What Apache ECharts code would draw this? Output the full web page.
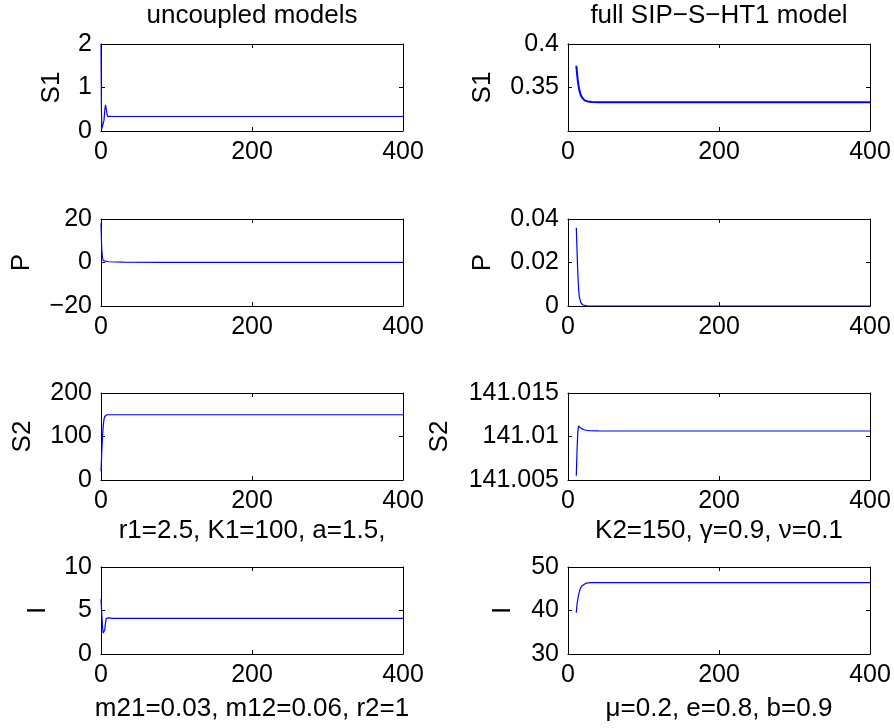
<!DOCTYPE html>
<html>
<head>
<meta charset="utf-8">
<script src="https://cdn.jsdelivr.net/npm/echarts@6/dist/echarts.min.js"></script>
<style>html,body{margin:0;padding:0;background:#fff}#c{width:894px;height:728px}</style>
</head>
<body>
<div id="c"></div>
<script>
// ---- data: [t, value] pairs ----
const s1Uncoupled = [[0,2],[0.5,0.6],[1,0.05],[2,0.02],[3,0.08],[4,0.25],[5,0.48],[6,0.6],[7,0.5],[8,0.38],[9,0.33],[10,0.32],[12,0.335],[15,0.333],[100,0.333],[200,0.333],[400,0.333]];
const pUncoupled  = [[0,18],[0.5,11],[1,6],[2,2],[3,0.9],[5,0.5],[10,0.35],[30,0.2],[80,0.08],[200,0.03],[400,0.02]];
const s2Uncoupled = [[0,20],[0.5,40],[1,65],[2,100],[3,125],[4,140],[5,146],[6,149],[8,150],[100,150],[400,150]];
const iUncoupled  = [[0,6.3],[1,4.6],[2,3.1],[3,2.4],[4,2.3],[5,2.8],[6,3.6],[7,4.1],[8,4.25],[10,4.15],[15,4.1],[400,4.1]];

const s1Full = [[11,0.375],[12,0.366],[13,0.358],[14,0.352],[15,0.347],[17,0.341],[19,0.338],[22,0.3352],[26,0.334],[32,0.3334],[40,0.333],[400,0.333]];
const pFull  = [[11,0.036],[12,0.025],[13,0.015],[14,0.008],[15,0.0042],[17,0.0015],[20,0.0004],[25,0.0001],[60,0],[400,0]];
const s2Full = [[11,141.0055],[12,141.0085],[13,141.0105],[14,141.0112],[16,141.0111],[18,141.0109],[22,141.01075],[28,141.01066],[40,141.01064],[400,141.01063]];
const iFull  = [[11,39.5],[12,41.5],[14,43.6],[16,44.9],[18,45.6],[20,46.0],[24,46.3],[30,46.4],[400,46.4]];

const xTicks = [0, 200, 400];
const titles = ['uncoupled models', 'full SIP\u2212S\u2212HT1 model'];
const yNames = ['S1', 'P', 'S2', 'I'];
const xLabels = [
  ['', '', 'r1=2.5, K1=100, a=1.5,', 'm21=0.03, m12=0.06, r2=1'],
  ['', '', 'K2=150, \u03b3=0.9, \u03bd=0.1', '\u03bc=0.2, e=0.8, b=0.9']
];
const yRanges = [
  [[0,2,1],[-20,20,20],[0,200,100],[0,10,5]],
  [[0.3,0.4,0.05],[0,0.04,0.02],[141.005,141.015,0.005],[30,50,10]]
];
const seriesData = [
  [s1Uncoupled, pUncoupled, s2Uncoupled, iUncoupled],
  [s1Full, pFull, s2Full, iFull]
];

// ---- layout ----
const FONT = '"Liberation Sans", Arial, Helvetica, sans-serif';
const TICK_FS = 25, TEXT_FS = 26;
const colLeft = [101, 568];
const plotW = 302, plotH = 87;
const rowTop = [44, 219, 393, 567];
const yNameX = [[52, 22, 23, 38], [483, 483, 440, 503]];
const xNameGap = [0, 0, 38, 42];

const grids = [], xAxes = [], yAxes = [], series = [], titleArr = [], graphics = [];
function fmtNum(v) {
  const s = String(+(+v).toFixed(4));
  return s.replace('-', '\u2212');
}
for (let c = 0; c < 2; c++) {
  titleArr.push({
    text: titles[c], left: colLeft[c] + plotW / 2, top: 3, textAlign: 'center', padding: 0,
    textStyle: { fontFamily: FONT, fontSize: TEXT_FS, fontWeight: 'normal', color: '#000' }
  });
  for (let r = 0; r < 4; r++) {
    const gi = grids.length;
    grids.push({ left: colLeft[c], top: rowTop[r], width: plotW, height: plotH, containLabel: false });
    const [ymin, ymax, yint] = yRanges[c][r];
    const common = { axisLine: { show: true, onZero: false, lineStyle: { color: '#000', width: 1 } },
      axisTick: { show: true, inside: true, length: 4, lineStyle: { color: '#000', width: 1 } },
      splitLine: { show: false } };
    xAxes.push(Object.assign({}, common, {
      type: 'value', gridIndex: gi, position: 'bottom', min: 0, max: 400, interval: 200,
      axisLabel: { show: true, margin: 9, fontFamily: FONT, fontSize: TICK_FS, color: '#000', formatter: v => fmtNum(v) },
      name: xLabels[c][r], nameLocation: 'middle', nameGap: xNameGap[r],
      nameTextStyle: { fontFamily: FONT, fontSize: TEXT_FS, color: '#000' }
    }));
    xAxes.push(Object.assign({}, common, {
      type: 'value', gridIndex: gi, position: 'top', min: 0, max: 400, interval: 200,
      axisLabel: { show: false }
    }));
    yAxes.push(Object.assign({}, common, {
      type: 'value', gridIndex: gi, position: 'left', min: ymin, max: ymax, interval: yint,
      axisLabel: { show: true, margin: 9, fontFamily: FONT, fontSize: TICK_FS, color: '#000',
        showMinLabel: !(c === 1 && r === 0), formatter: v => fmtNum(v) }
    }));
    yAxes.push(Object.assign({}, common, {
      type: 'value', gridIndex: gi, position: 'right', min: ymin, max: ymax, interval: yint,
      axisLabel: { show: false }
    }));
    graphics.push({
      type: 'text', x: yNameX[c][r], y: rowTop[r] + plotH / 2, rotation: Math.PI / 2,
      style: { text: yNames[r], font: TEXT_FS + 'px ' + FONT, fill: '#000', align: 'center', verticalAlign: 'middle' }
    });
    series.push({
      type: 'line', xAxisIndex: gi * 2, yAxisIndex: gi * 2, data: seriesData[c][r],
      showSymbol: false, smooth: false, clip: true, silent: true,
      lineStyle: { color: '#0000ff', width: (c === 1 && r === 0) ? 2 : 1.2 }
    });
  }
}

const chart = echarts.init(document.getElementById('c'), null, { renderer: 'canvas' });
chart.setOption({
  animation: false,
  backgroundColor: '#fff',
  title: titleArr,
  grid: grids,
  xAxis: xAxes,
  yAxis: yAxes,
  graphic: graphics,
  series: series
});
</script>
</body>
</html>
